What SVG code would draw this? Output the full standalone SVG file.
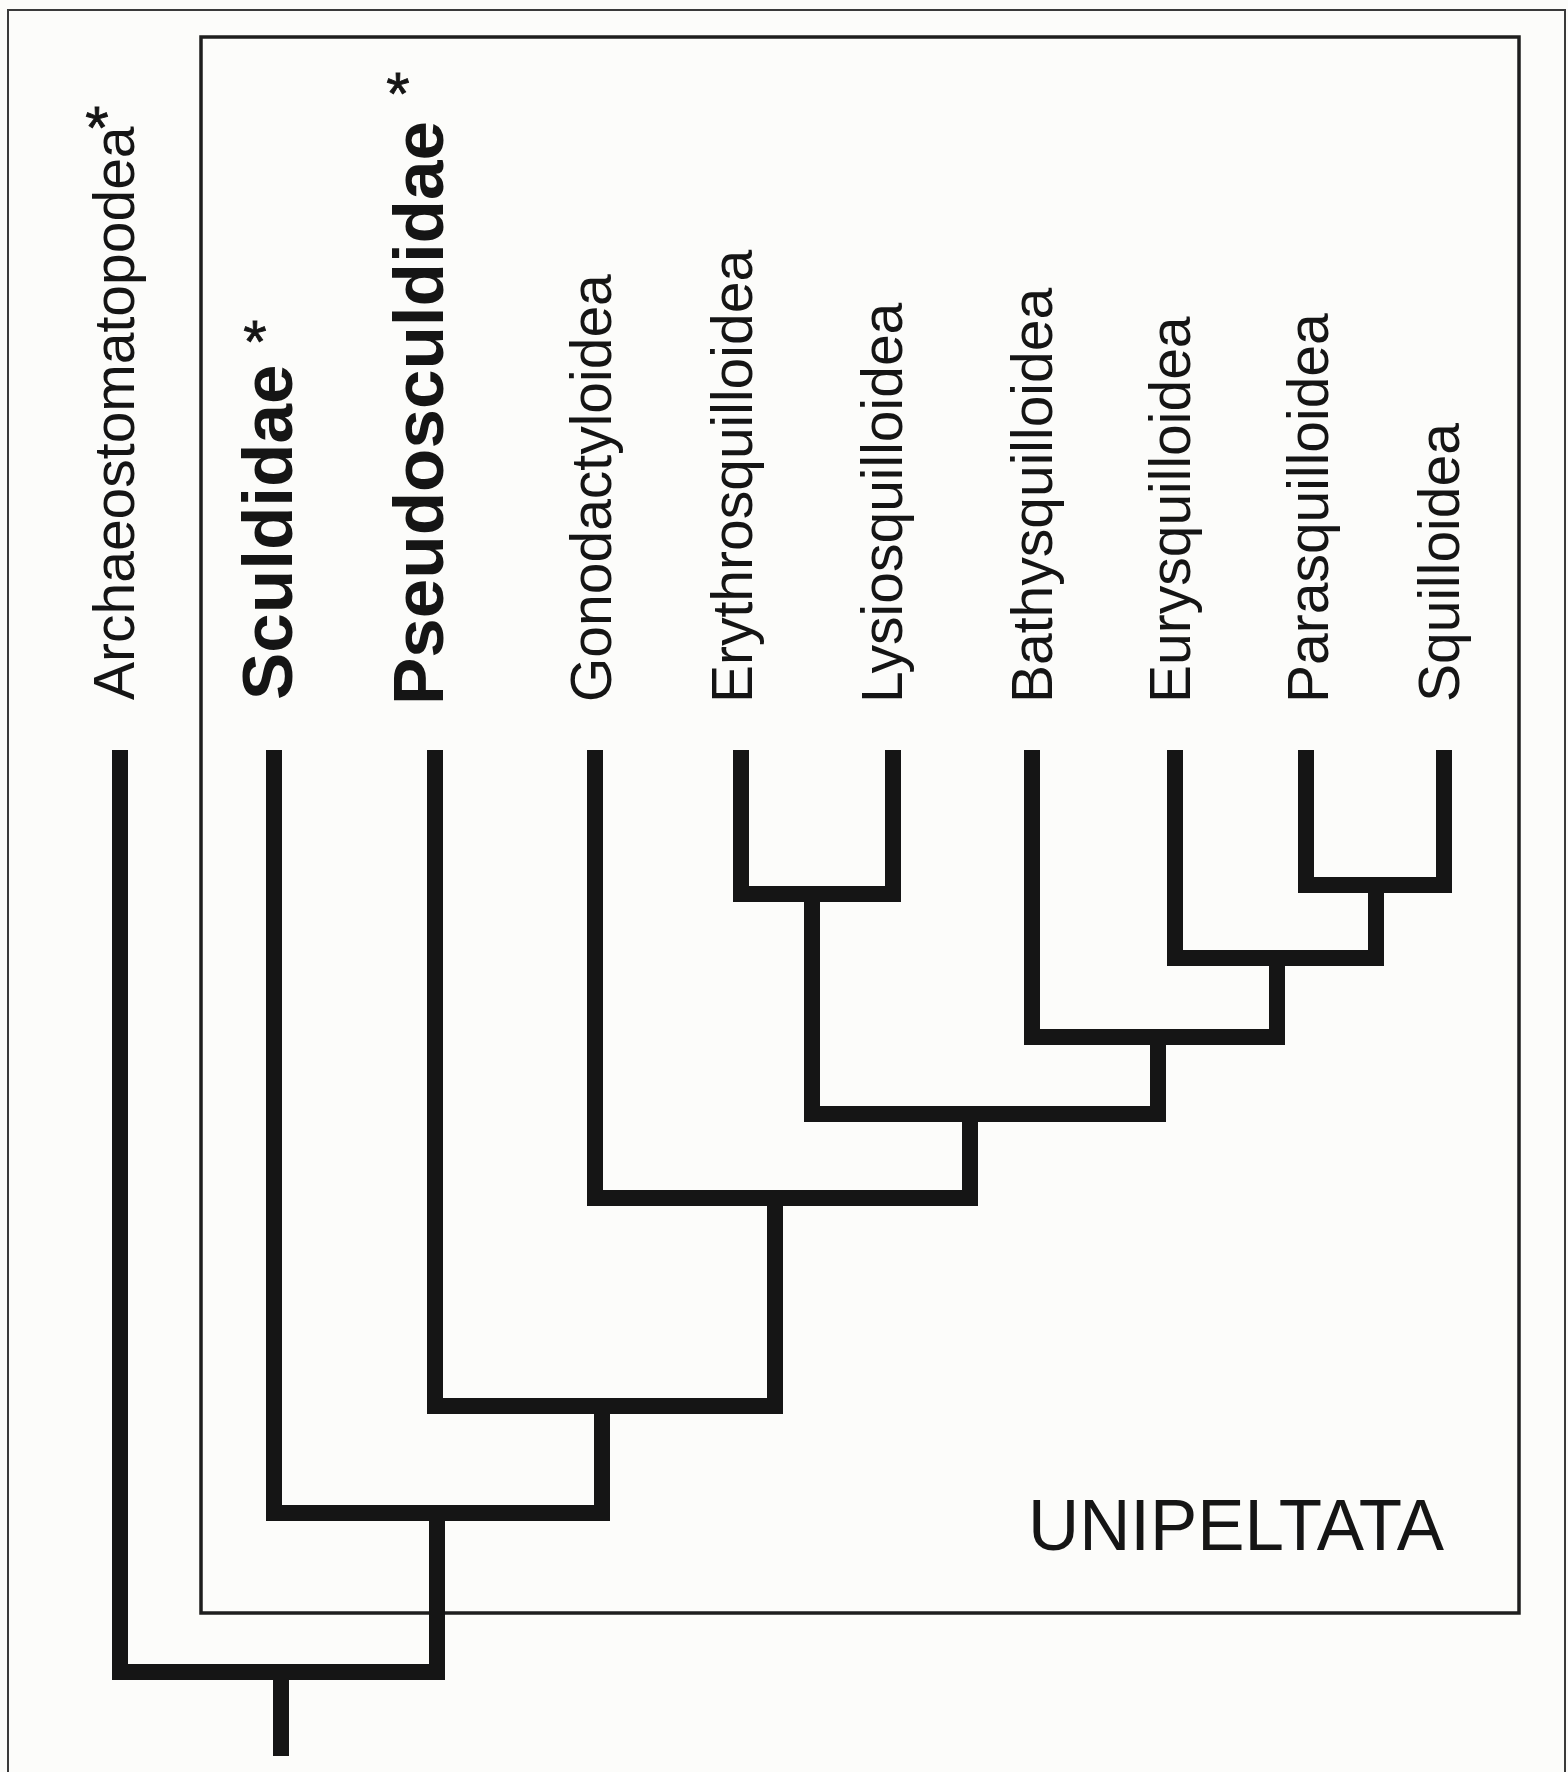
<svg xmlns="http://www.w3.org/2000/svg" width="1568" height="1772" viewBox="0 0 1568 1772">
  <style>
    .lbl { font-family: "Liberation Sans", Arial, Helvetica, sans-serif; font-size: 57px; fill: #151515; }
    .bold { font-weight: bold; font-size: 71px; }
    .ast { font-family: "Liberation Sans", Arial, sans-serif; font-size: 60px; fill: #151515; text-anchor: middle; stroke: #151515; stroke-width: 0.8; }
    .branch { fill: none; stroke: #151515; stroke-width: 16; stroke-linejoin: miter; stroke-linecap: butt; }
    .frame { fill: none; stroke: #3a3a3a; stroke-width: 2; }
    .box { fill: none; stroke: #1e1e1e; stroke-width: 3.5; }
    .title { font-family: "Liberation Sans", Arial, sans-serif; font-size: 72px; fill: #151515; }
  </style>
  <rect x="0" y="0" width="1568" height="1772" fill="#fcfcfa"/>
  <g id="frame">
    <path class="frame" d="M8,1772 V10 H1565 V1772"/>
  </g>
  <g id="unipeltata-box">
    <rect class="box" x="201" y="37" width="1318" height="1576"/>
    <text class="title" x="1028" y="1550" textLength="416" lengthAdjust="spacingAndGlyphs">UNIPELTATA</text>
  </g>
  <g id="connectors">
    <path class="branch" d="M741,750 V894 H893 V750"/>
    <path class="branch" d="M1306,750 V885 H1444 V750"/>
    <path class="branch" d="M1175,750 V958 H1376 V885"/>
    <path class="branch" d="M1032,750 V1037 H1277 V958"/>
    <path class="branch" d="M812,894 V1114 H1158 V1037"/>
    <path class="branch" d="M595,750 V1198 H970 V1114"/>
    <path class="branch" d="M435,750 V1406 H775 V1198"/>
    <path class="branch" d="M274,750 V1513 H602 V1406"/>
    <path class="branch" d="M120,750 V1672 H437 V1513"/>
    <path class="branch" d="M281,1672 V1756"/>
  </g>
  <g id="archaeostomatopodea">
    <text class="lbl" transform="translate(134,700) rotate(-90)">Archaeostomatopodea</text>
    <text class="ast" x="97" y="148">*</text>
  </g>
  <g id="sculdidae">
    <text class="lbl bold" transform="translate(292,700) rotate(-90)">Sculdidae</text>
    <text class="ast" x="255" y="362">*</text>
  </g>
  <g id="pseudosculdidae">
    <text class="lbl bold" transform="translate(443,705) rotate(-90)">Pseudosculdidae</text>
    <text class="ast" x="398" y="114">*</text>
  </g>
  <g id="gonodactyloidea">
    <text class="lbl" transform="translate(611,702) rotate(-90)">Gonodactyloidea</text>
  </g>
  <g id="erythrosquilloidea">
    <text class="lbl" transform="translate(752,703) rotate(-90)">Erythrosquilloidea</text>
  </g>
  <g id="lysiosquilloidea">
    <text class="lbl" transform="translate(902,703) rotate(-90)">Lysiosquilloidea</text>
  </g>
  <g id="bathysquilloidea">
    <text class="lbl" transform="translate(1052,703) rotate(-90)">Bathysquilloidea</text>
  </g>
  <g id="eurysquilloidea">
    <text class="lbl" transform="translate(1190,703) rotate(-90)">Eurysquilloidea</text>
  </g>
  <g id="parasquilloidea">
    <text class="lbl" transform="translate(1328,703) rotate(-90)">Parasquilloidea</text>
  </g>
  <g id="squilloidea">
    <text class="lbl" transform="translate(1459,702) rotate(-90)">Squilloidea</text>
  </g>
</svg>
